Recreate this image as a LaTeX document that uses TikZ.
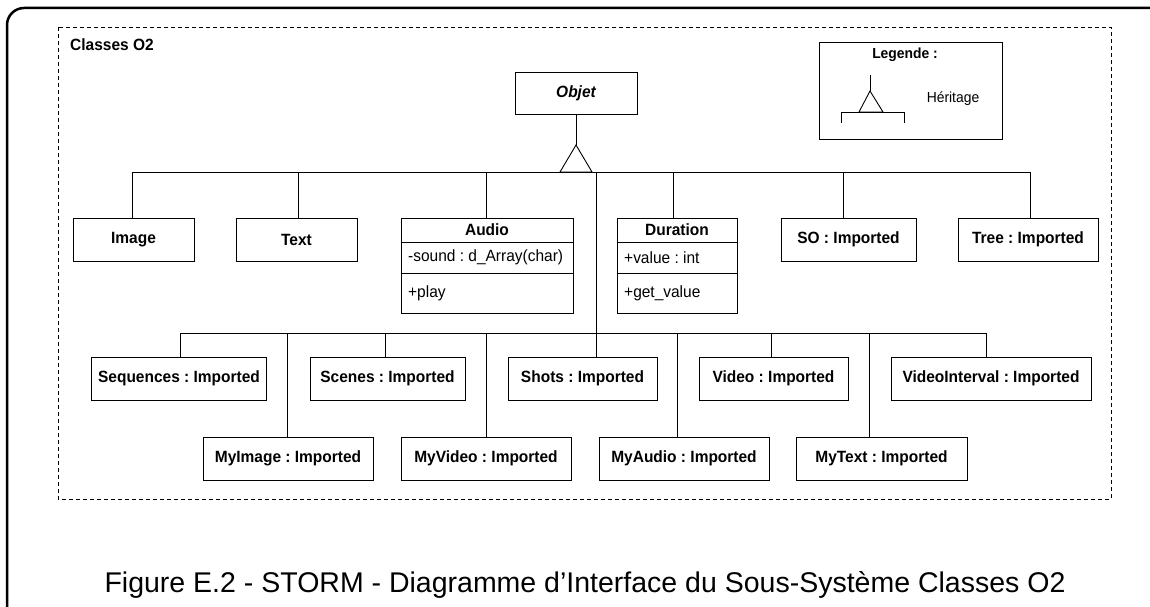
\documentclass[tikz,border=0pt]{standalone}
\usepackage{fontspec}
\setmainfont{Liberation Sans}
\newfontfamily\boxfont{Liberation Sans}[FakeStretch=0.95]
\frenchspacing
\tikzset{
  cls/.style={draw=black, line width=0.9pt, minimum height=43pt, inner sep=0pt, font=\boxfont\fontsize{16.3}{18}\selectfont\bfseries},
  attr/.style={anchor=west, inner sep=0pt, font=\boxfont\fontsize{16.3}{18}\selectfont},
  conn/.style={line width=0.9pt},
  lbl/.style={inner sep=0pt, font=\boxfont\fontsize{16.3}{18}\selectfont\bfseries},
}
\begin{document}
\begin{tikzpicture}[x=1pt,y=-1pt]
\useasboundingbox (0,0) rectangle (1150,607);
% outer frame
\draw[line width=2.5pt, rounded corners=17pt] (7,608) -- (7,8) -- (1152,8);
% package frame
\draw[line width=0.8pt, dash pattern=on 4pt off 3pt] (58,27) rectangle (1111,499);
\node[lbl, anchor=west] (pkg) at (70,45) {Classes O2};

% Objet
\node[cls, minimum width=122pt, minimum height=42pt, font=\boxfont\fontsize{16.3}{18}\selectfont\bfseries\itshape] (objet) at (576,93) {Objet};
\coordinate (apex) at (576,145);
\coordinate (bl) at (560,172);
\coordinate (br) at (592,172);
\draw[conn] (objet.south) -- (apex);
\draw[conn] (apex) -- (bl) -- (br) -- cycle;

% row 1
\node[cls, minimum width=121pt] (image) at (133.5,239.5) {Image};
\node[cls, minimum width=121pt] (text) at (296.5,239.5) {Text};
\node[cls, minimum width=172pt, minimum height=95pt] (audio) at (487,265.5) {};
\node[cls, minimum width=120pt, minimum height=95pt] (duration) at (677,265.5) {};
\node[cls, minimum width=135pt] (so) at (848.5,239.5) {SO : Imported};
\node[cls, minimum width=140pt] (tree) at (1028,239.5) {Tree : Imported};

% Audio compartments
\draw[conn] (audio.west |- 0,242) -- (audio.east |- 0,242);
\draw[conn] (audio.west |- 0,273) -- (audio.east |- 0,273);
\node[lbl] (audioname) at (487,230) {Audio};
\node[attr] (audioattr) at (408,257.5) {-sound : d\_Array(char)};
\node[attr] (audioop) at (408,293) {+play};
% Duration compartments
\draw[conn] (duration.west |- 0,242) -- (duration.east |- 0,242);
\draw[conn] (duration.west |- 0,273) -- (duration.east |- 0,273);
\node[lbl] (durname) at (677,230) {Duration};
\node[attr] (durattr) at (624,257.5) {+value : int};
\node[attr] (durop) at (624,293) {+get\_value};

% upper bus
\coordinate (tImage) at (132,172);
\coordinate (tText) at (298,172);
\coordinate (tAudio) at (486,172);
\coordinate (tHub) at (596,172);
\coordinate (tDur) at (673,172);
\coordinate (tSO) at (843,172);
\coordinate (tTree) at (1030,172);
\draw[conn] (tImage) -- (tTree);
\draw[conn] (tImage) -- (tImage |- image.north);
\draw[conn] (tText) -- (tText |- text.north);
\draw[conn] (tAudio) -- (tAudio |- audio.north);
\draw[conn] (tDur) -- (tDur |- duration.north);
\draw[conn] (tSO) -- (tSO |- so.north);
\draw[conn] (tTree) -- (tTree |- tree.north);

% row 2
\node[cls, minimum width=175pt] (seq) at (179,378.5) {Sequences : Imported};
\node[cls, minimum width=155pt] (scenes) at (387.5,378.5) {Scenes : Imported};
\node[cls, minimum width=149pt] (shots) at (582.5,378.5) {Shots : Imported};
\node[cls, minimum width=149pt] (video) at (773.5,378.5) {Video : Imported};
\node[cls, minimum width=200pt] (vint) at (991,378.5) {VideoInterval : Imported};
% row 3
\node[cls, minimum width=170pt] (myimage) at (288,458.5) {MyImage : Imported};
\node[cls, minimum width=170pt] (myvideo) at (486,458.5) {MyVideo : Imported};
\node[cls, minimum width=170pt] (myaudio) at (684,458.5) {MyAudio : Imported};
\node[cls, minimum width=171pt] (mytext) at (881.5,458.5) {MyText : Imported};

% lower bus
\coordinate (hub) at (596,333);
\coordinate (bSeq) at (180,333);
\coordinate (bMyImage) at (287,333);
\coordinate (bScenes) at (385,333);
\coordinate (bMyVideo) at (486,333);
\coordinate (bMyAudio) at (677,333);
\coordinate (bVideo) at (771,333);
\coordinate (bMyText) at (869,333);
\coordinate (bVint) at (986,333);
\draw[conn] (tHub) -- (hub);
\draw[conn] (bSeq) -- (bVint);
\draw[conn] (hub) -- (hub |- shots.north);
\draw[conn] (bSeq) -- (bSeq |- seq.north);
\draw[conn] (bMyImage) -- (bMyImage |- myimage.north);
\draw[conn] (bScenes) -- (bScenes |- scenes.north);
\draw[conn] (bMyVideo) -- (bMyVideo |- myvideo.north);
\draw[conn] (bMyAudio) -- (bMyAudio |- myaudio.north);
\draw[conn] (bVideo) -- (bVideo |- video.north);
\draw[conn] (bMyText) -- (bMyText |- mytext.north);
\draw[conn] (bVint) -- (bVint |- vint.north);

% legend
\node[cls, minimum width=183pt, minimum height=97pt] (legend) at (910.5,90.5) {};
\node[inner sep=0pt, font=\boxfont\fontsize{14.6}{16}\selectfont\bfseries] (legtitle) at (905,55) {Legende :};
\node[inner sep=0pt, font=\boxfont\fontsize{14.6}{16}\selectfont] (legtext) at (953,99) {Héritage};
\coordinate (lTop) at (870,75);
\coordinate (lApex) at (870,91);
\coordinate (lBl) at (859,112);
\coordinate (lBr) at (883,112);
\coordinate (lL) at (841,112);
\coordinate (lR) at (904,112);
\draw[conn] (lTop) -- (lApex);
\draw[conn] (lApex) -- (lBl) -- (lBr) -- cycle;
\draw[conn] (lL |- 0,123) -- (lL) -- (lR) -- (lR |- 0,123);

% caption
\node[anchor=base, inner sep=0pt, font=\fontsize{28.5}{32}\selectfont] (caption) at (585,592) {Figure E.2 - STORM - Diagramme d’Interface du Sous-Système Classes O2};
\end{tikzpicture}
\end{document}
